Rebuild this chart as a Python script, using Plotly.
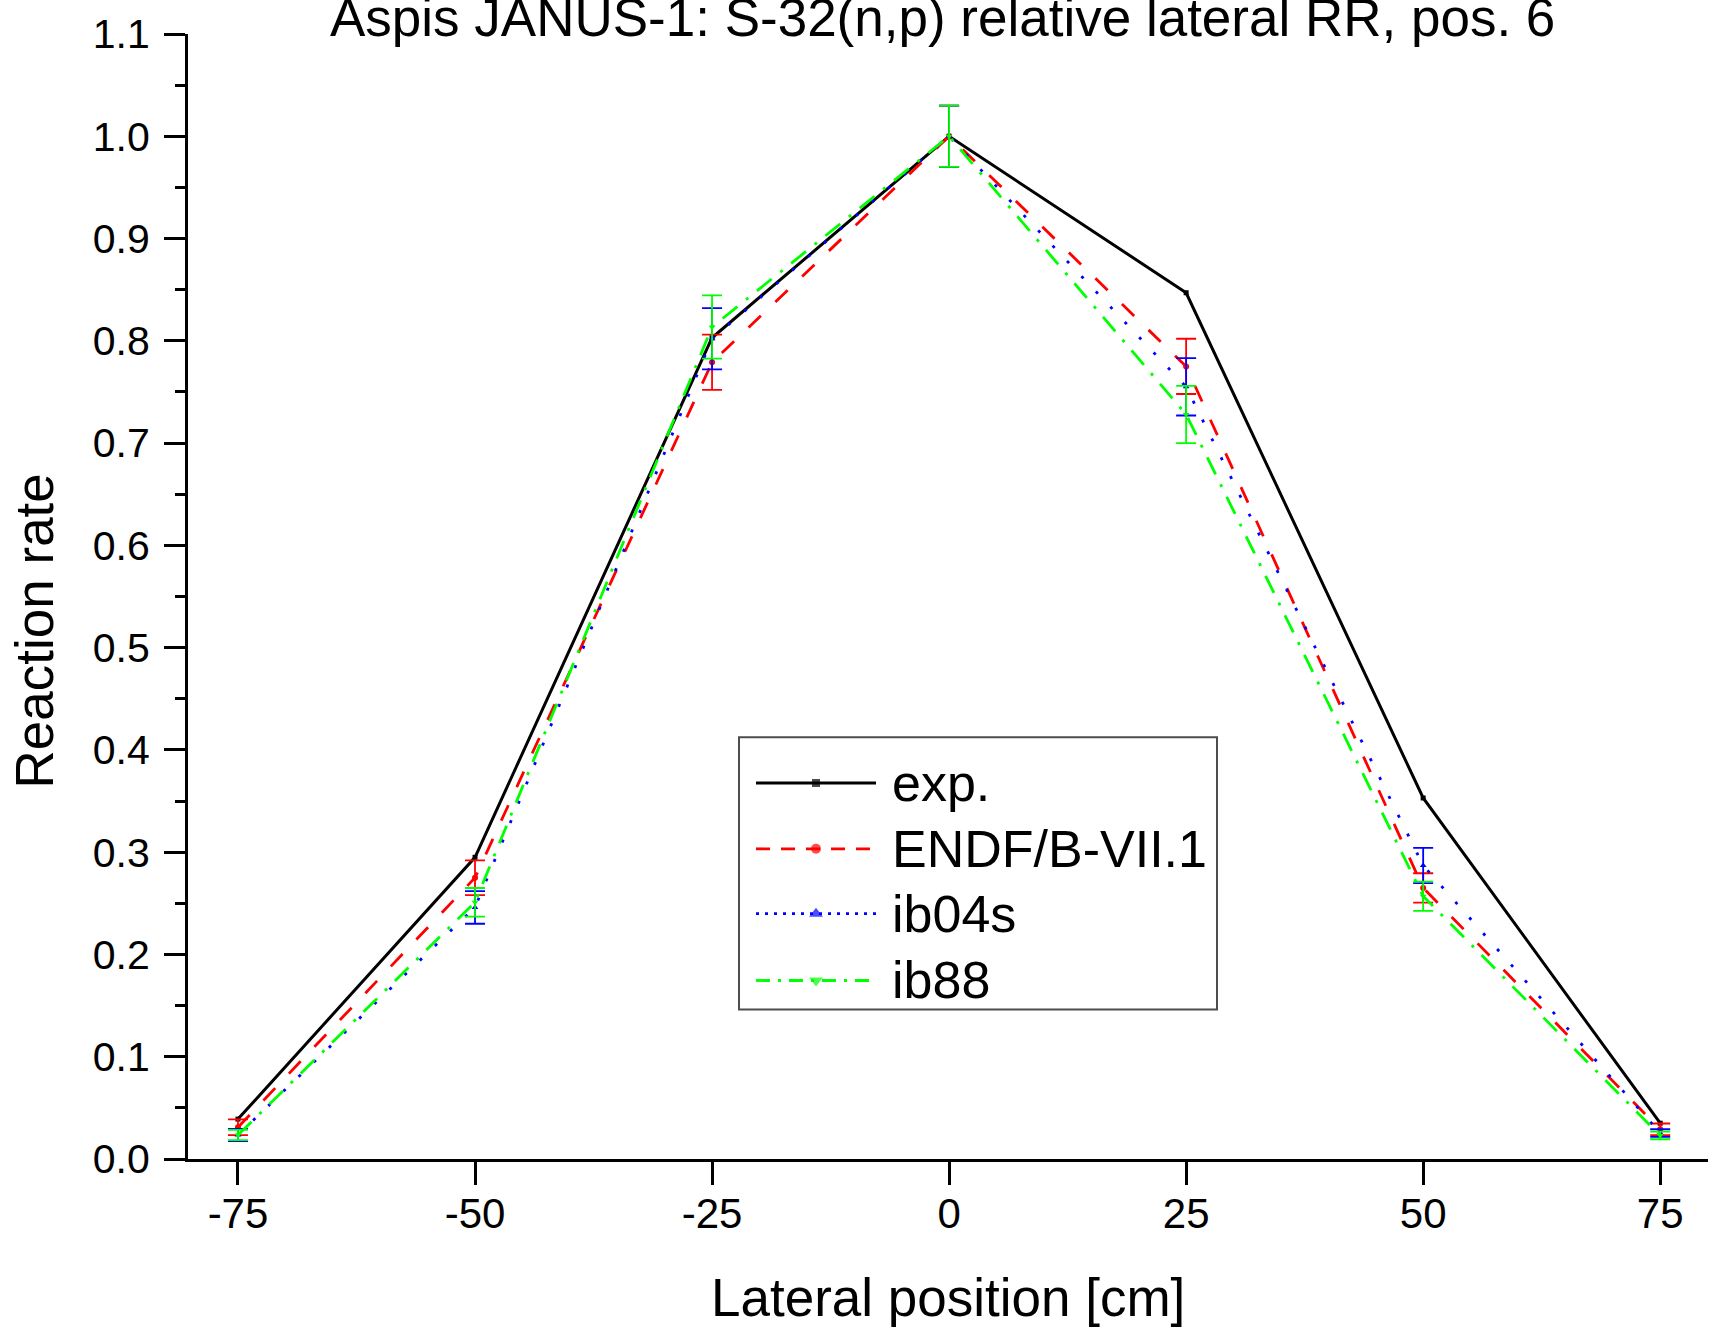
import plotly.graph_objects as go

# Lateral reaction-rate traverse, S-32(n,p), position 6
positions = [-75, -50, -25, 0, 25, 50, 75]
position_labels = ["-75", "-50", "-25", "0", "25", "50", "75"]

exp_rr = [0.039, 0.295, 0.803, 1.0, 0.847, 0.353, 0.035]

endf_rr = [0.031, 0.275, 0.779, 1.0, 0.775, 0.265, 0.029]
endf_err = [0.0077, 0.017, 0.027, 0.030, 0.027, 0.0144, 0.0057]

ib04s_rr = [0.0235, 0.246, 0.802, 1.0, 0.755, 0.287, 0.0254]
ib04s_err = [0.006, 0.016, 0.030, 0.030, 0.028, 0.0173, 0.0037]

ib88_rr = [0.0234, 0.251, 0.8135, 1.0, 0.728, 0.257, 0.023]
ib88_err = [0.005, 0.014, 0.031, 0.030, 0.028, 0.0143, 0.0037]

series_names = ["exp.", "ENDF/B-VII.1", "ib04s", "ib88"]
series_colors = ["#000000", "#ff0000", "#0000ff", "#00ff00"]
series_dash = ["solid", "17px,20px", "3px,18px", "19px,11px,3px,11px"]
legend_dash = ["solid", "14px,11px", "3px,6px", "14px,8px,3px,8px"]
series_symbols = ["square", "circle", "triangle-up", "triangle-down"]

FONT = "Arial, 'Liberation Sans', sans-serif"
W, H = 1719, 1328
L, R, T, B = 188, 11, 31, 169
PLOT_W, PLOT_H = W - L - R, H - T - B


def paper_x(px):
    return (px - L) / PLOT_W


def paper_y(py):
    return (H - B - py) / PLOT_H


fig = go.Figure()

fig.add_trace(go.Scatter(
    x=positions, y=exp_rr, mode="lines+markers", name=series_names[0],
    line=dict(color=series_colors[0], width=3, dash=series_dash[0]),
    marker=dict(symbol=series_symbols[0], size=5, color=series_colors[0]),
    showlegend=False, cliponaxis=False,
))

model_sets = [(endf_rr, endf_err), (ib04s_rr, ib04s_err), (ib88_rr, ib88_err)]
for i, (vals, errs) in enumerate(model_sets, start=1):
    fig.add_trace(go.Scatter(
        x=positions, y=vals, mode="lines+markers", name=series_names[i],
        line=dict(color=series_colors[i], width=2.8, dash=series_dash[i]),
        marker=dict(symbol=series_symbols[i], size=6, color=series_colors[i]),
        error_y=dict(type="data", array=errs, visible=True,
                     color=series_colors[i], thickness=1.8, width=10),
        showlegend=False, cliponaxis=False,
    ))

# Legend drawn on a hidden overlay axis measured in page pixels
legend_rows_y = [782, 848, 913, 980]
sample_x = [756, 816, 876]
marker_sizes = [8, 10, 12, 12]
for i, name in enumerate(series_names):
    y = legend_rows_y[i]
    fig.add_trace(go.Scatter(
        x=sample_x, y=[y, y, y], xaxis="x2", yaxis="y2",
        mode="lines+markers",
        line=dict(color=series_colors[i], width=2.8 if i else 3, dash=legend_dash[i]),
        marker=dict(symbol=series_symbols[i], size=[0, marker_sizes[i], 0],
                    color=series_colors[i], line=dict(width=0)),
        showlegend=False, hoverinfo="skip", cliponaxis=False,
    ))
    fig.add_annotation(
        x=890, y=y, xref="x2", yref="y2", text=name, showarrow=False,
        xanchor="left", yanchor="middle",
        font=dict(family=FONT, size=52, color="black"),
    )

fig.add_shape(type="rect", xref="x2", yref="y2", x0=739, x1=1217, y0=736, y1=1009,
              line=dict(color="#4d4d4d", width=2), layer="below")

# Titles (paper coordinates so they can sit outside the plotting area)
fig.add_annotation(
    x=paper_x(942), y=paper_y(14), xref="paper", yref="paper", showarrow=False,
    text="Aspis JANUS-1: S-32(n,p) relative lateral RR, pos. 6",
    xanchor="center", yanchor="middle",
    font=dict(family=FONT, size=53, color="black"),
)
fig.add_annotation(
    x=paper_x(948), y=paper_y(1298), xref="paper", yref="paper", showarrow=False,
    text="Lateral position [cm]", xanchor="center", yanchor="middle",
    font=dict(family=FONT, size=53, color="black"),
)
fig.add_annotation(
    x=paper_x(34), y=paper_y(630), xref="paper", yref="paper", showarrow=False,
    textangle=-90, text="Reaction rate", xanchor="center", yanchor="middle",
    font=dict(family=FONT, size=53, color="black"),
)

fig.update_layout(
    width=W, height=H, autosize=False,
    margin=dict(l=L, r=R, t=T, b=B, pad=0),
    paper_bgcolor="white", plot_bgcolor="white",
    font=dict(family=FONT, color="black"),
    showlegend=False,
    xaxis=dict(
        range=[-80.27, 80.04], tickmode="array", tickvals=positions,
        ticktext=position_labels, ticks="outside", ticklen=23, tickwidth=3,
        tickcolor="black", showline=True, linewidth=3, linecolor="black",
        showgrid=False, zeroline=False, tickfont=dict(size=42),
        ticklabelstandoff=-7,
    ),
    yaxis=dict(
        range=[0, 1.1], tick0=0, dtick=0.1, tickformat=".1f",
        ticks="outside", ticklen=21, tickwidth=3, tickcolor="black",
        showline=True, linewidth=3, linecolor="black",
        showgrid=False, zeroline=False, tickfont=dict(size=41),
        ticklabelstandoff=6,
        minor=dict(dtick=0.05, ticks="outside", ticklen=10, tickwidth=3,
                   tickcolor="black", showgrid=False),
    ),
    xaxis2=dict(overlaying="x", anchor="y2", range=[L, W - R], visible=False),
    yaxis2=dict(overlaying="y", anchor="x2", range=[H - B, T], visible=False),
)

fig.write_html("out.html")
